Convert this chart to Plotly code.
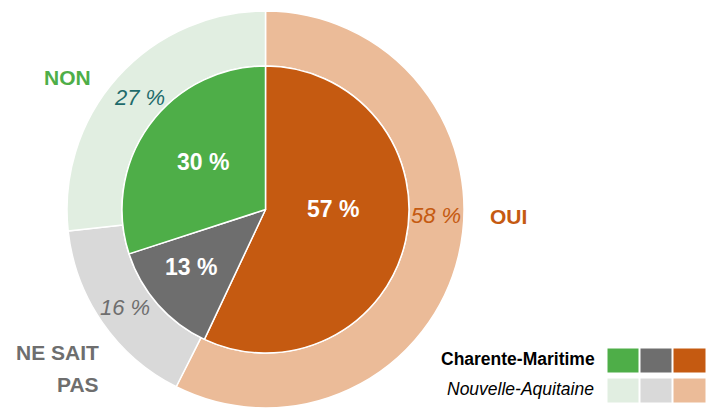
import plotly.graph_objects as go

categories = ["OUI", "NE SAIT PAS", "NON"]
charente_maritime = [57, 13, 30]
nouvelle_aquitaine = [58, 16, 27]
inner_labels = ["57 %", "13 %", "30 %"]
outer_labels = ["58 %", "16 %", "27 %"]
legend_names = ["Charente-Maritime", "Nouvelle-Aquitaine"]

dark_colors = ["#C55A11", "#6E6E6E", "#4EAE48"]
light_colors = ["#EBBB98", "#D9D9D9", "#E1EEE1"]

W, H = 713, 408
FONT = "Liberation Sans Narrow, Arial Narrow, Liberation Sans, Arial, sans-serif"

CX, CY = 265.5, 209.5
R_OUT, R_IN = 198.5, 143.5


def px(x):
    return x / W


def py(y):
    return 1 - y / H


fig = go.Figure()

# outer ring: Nouvelle-Aquitaine
fig.add_trace(go.Pie(
    labels=categories, values=nouvelle_aquitaine, sort=False, direction="clockwise",
    rotation=0, hole=R_IN / R_OUT,
    marker=dict(colors=light_colors, line=dict(color="white", width=1.5)),
    textinfo="none", hoverinfo="skip", showlegend=False,
    domain=dict(x=[px(CX - R_OUT), px(CX + R_OUT)], y=[0, (2 * R_OUT) / H]),
))
# inner pie: Charente-Maritime
fig.add_trace(go.Pie(
    labels=categories, values=charente_maritime, sort=False, direction="clockwise",
    rotation=0,
    marker=dict(colors=dark_colors, line=dict(color="white", width=1.5)),
    textinfo="none", hoverinfo="skip", showlegend=False,
    domain=dict(x=[px(CX - R_IN), px(CX + R_IN)], y=[py(CY + R_IN), py(CY - R_IN)]),
))

ann = []


def label(x, y, text, size, color, xanchor="center"):
    ann.append(dict(x=px(x), y=py(y), xref="paper", yref="paper", text=text,
                    showarrow=False, xanchor=xanchor, yanchor="middle",
                    font=dict(family=FONT, size=size, color=color)))


# inner value labels
inner_pos = [(333, 209), (191.5, 267), (202.5, 162)]
for (x, y), t in zip(inner_pos, inner_labels):
    label(x, y, f"<b>{t}</b>", 23, "white")
# outer value labels
outer_pos = [(436, 215), (125, 307), (139, 97)]
outer_colors = ["#C55A11", "#6E6E6E", "#1E6B6B"]
for (x, y), t, c in zip(outer_pos, outer_labels, outer_colors):
    label(x, y, f"<i>{t}</i>", 22, c)
# category labels
label(508, 216, "<b>OUI</b>", 21, "#C55A11")
label(67, 77, "<b>NON</b>", 21, "#4EAE48")
label(101, 352, "<b>NE SAIT</b>", 21, "#6E6E6E", "right")
label(101, 384, "<b>PAS</b>", 21, "#6E6E6E", "right")

# legend text
label(597, 359, f"<b>{legend_names[0]}</b>", 17.5, "black", "right")
label(596, 389, f"<i>{legend_names[1]}</i>", 17.5, "black", "right")

shapes = []
legend_order = [2, 1, 0]  # NON, NSP, OUI
box_x = [(607, 639), (640, 672), (673, 706)]
for (x0, x1), i in zip(box_x, legend_order):
    shapes.append(dict(type="rect", xref="paper", yref="paper",
                       x0=px(x0), x1=px(x1), y0=py(373), y1=py(348),
                       fillcolor=dark_colors[i], line=dict(color="white", width=1)))
    shapes.append(dict(type="rect", xref="paper", yref="paper",
                       x0=px(x0), x1=px(x1), y0=py(403), y1=py(378),
                       fillcolor=light_colors[i], line=dict(color="white", width=1)))

fig.update_layout(
    width=W, height=H, margin=dict(l=0, r=0, t=0, b=0),
    paper_bgcolor="white", plot_bgcolor="white",
    annotations=ann, shapes=shapes, showlegend=False,
)

fig.write_html("out.html", config={"displayModeBar": False},
               post_script="document.body.style.margin='0px';document.body.style.padding='0px';")
